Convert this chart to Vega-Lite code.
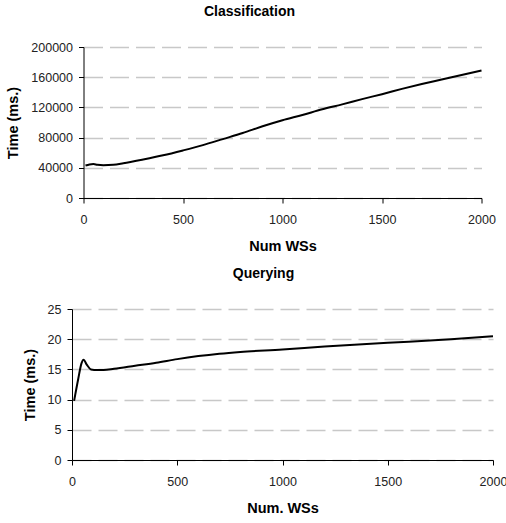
{
  "$schema": "https://vega.github.io/schema/vega-lite/v6.json",
  "background": "white",
  "padding": {"left": 5, "top": 5, "right": 5, "bottom": 5},
  "bounds": "flush",
  "center": true,
  "spacing": 111,
  "config": {
    "font": "Liberation Sans",
    "view": {"stroke": null},
    "axis": {
      "labelFont": "Liberation Sans",
      "labelFontSize": 12.5,
      "labelColor": "#222",
      "titleFont": "Liberation Sans",
      "titleFontSize": 14.5,
      "titleFontWeight": "bold",
      "titleColor": "#000",
      "domainColor": "#000",
      "tickColor": "#000",
      "tickSize": 5,
      "gridColor": "#c8c8c8",
      "gridDash": [19, 7],
      "gridWidth": 1.5
    },
    "title": {"font": "Liberation Sans", "fontSize": 14, "fontWeight": "bold", "color": "#000", "frame": "group", "anchor": "middle"}
  },
  "datasets": {
    "classification": [
      {"n": 10, "t": 43000}, {"n": 30, "t": 44500}, {"n": 50, "t": 45000}, {"n": 70, "t": 44000},
      {"n": 100, "t": 43500}, {"n": 150, "t": 44000}, {"n": 200, "t": 46000}, {"n": 300, "t": 51000},
      {"n": 400, "t": 56500}, {"n": 500, "t": 63000}, {"n": 600, "t": 70000}, {"n": 700, "t": 78000},
      {"n": 800, "t": 86000}, {"n": 900, "t": 95000}, {"n": 1000, "t": 103000}, {"n": 1100, "t": 110000},
      {"n": 1200, "t": 117500}, {"n": 1300, "t": 124000}, {"n": 1400, "t": 131000}, {"n": 1500, "t": 137500},
      {"n": 1600, "t": 144500}, {"n": 1700, "t": 151000}, {"n": 1800, "t": 157000}, {"n": 1900, "t": 163000},
      {"n": 2000, "t": 169000}
    ],
    "querying": [
      {"n": 10, "t": 9.8}, {"n": 30, "t": 13.5}, {"n": 45, "t": 16.0}, {"n": 55, "t": 16.6},
      {"n": 70, "t": 15.8}, {"n": 90, "t": 15.0}, {"n": 120, "t": 14.9}, {"n": 150, "t": 14.9},
      {"n": 200, "t": 15.1}, {"n": 300, "t": 15.6}, {"n": 400, "t": 16.1}, {"n": 500, "t": 16.7},
      {"n": 600, "t": 17.2}, {"n": 700, "t": 17.6}, {"n": 800, "t": 17.9}, {"n": 1000, "t": 18.3},
      {"n": 1200, "t": 18.8}, {"n": 1500, "t": 19.4}, {"n": 1800, "t": 20.0}, {"n": 2000, "t": 20.5}
    ]
  },
  "vconcat": [
    {
      "width": 398,
      "height": 151,
      "title": {"text": "Classification", "offset": 22, "dx": -33},
      "data": {"name": "classification"},
      "mark": {"type": "line", "color": "#000", "strokeWidth": 2, "interpolate": "monotone"},
      "encoding": {
        "x": {
          "field": "n", "type": "quantitative",
          "scale": {"domain": [0, 2000], "nice": false, "zero": true},
          "axis": {"title": "Num WSs", "values": [0, 500, 1000, 1500, 2000], "format": "d", "grid": false, "labelPadding": 10, "titlePadding": 14, "labelFlush": false}
        },
        "y": {
          "field": "t", "type": "quantitative",
          "scale": {"domain": [0, 200000], "nice": false},
          "axis": {"title": "Time (ms.)", "values": [0, 40000, 80000, 120000, 160000, 200000], "format": "d", "labelPadding": 6, "titlePadding": 10, "labelFlush": false}
        }
      }
    },
    {
      "width": 421,
      "height": 151,
      "title": {"text": "Querying", "offset": 22, "dx": -19},
      "data": {"name": "querying"},
      "mark": {"type": "line", "color": "#000", "strokeWidth": 2, "interpolate": "monotone"},
      "encoding": {
        "x": {
          "field": "n", "type": "quantitative",
          "scale": {"domain": [0, 2000], "nice": false, "zero": true},
          "axis": {"title": "Num. WSs", "values": [0, 500, 1000, 1500, 2000], "format": "d", "grid": false, "labelPadding": 10, "titlePadding": 14, "labelFlush": false}
        },
        "y": {
          "field": "t", "type": "quantitative",
          "scale": {"domain": [0, 25], "nice": false},
          "axis": {"title": "Time (ms.)", "values": [0, 5, 10, 15, 20, 25], "labelPadding": 6, "titlePadding": 10, "labelFlush": false}
        }
      }
    }
  ]
}
